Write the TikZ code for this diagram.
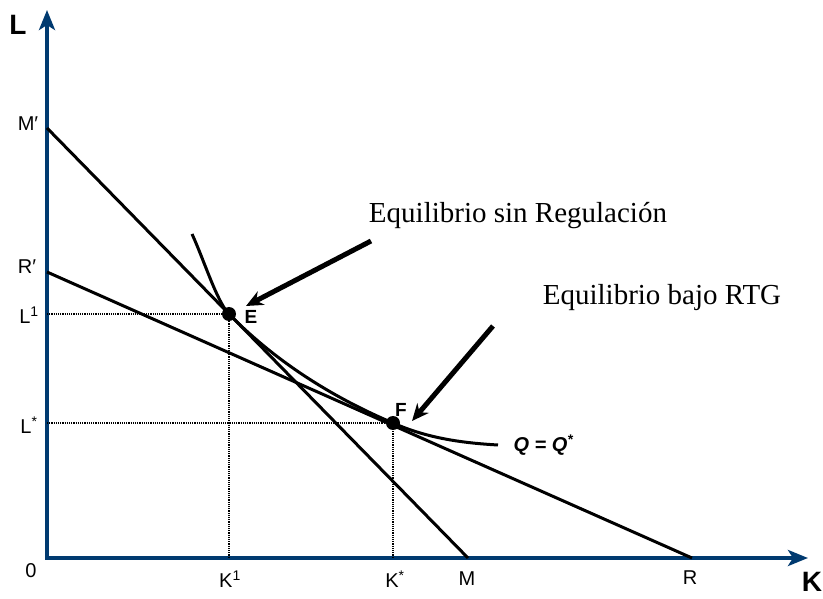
\documentclass[tikz,border=0pt]{standalone}
\usepackage{fontspec}
\setmainfont{Liberation Serif}
\setsansfont{Liberation Sans}
\usetikzlibrary{arrows.meta,positioning}
\definecolor{axisblue}{RGB}{0,58,112}

\begin{document}
\begin{tikzpicture}[x=1pt,y=1pt,
  axis/.style={draw=axisblue,line width=4.5pt,{Stealth[length=20pt,width=16pt,inset=5pt]}-{Stealth[length=20pt,width=16pt,inset=5pt]}},
  budget/.style={line width=3pt},
  guide/.style={line width=1.2pt,densely dotted},
  pt/.style={circle,fill=black,inner sep=0pt,minimum size=14pt},
  lbl/.style={font=\sffamily\fontsize{20}{20}\selectfont},
  axlbl/.style={font=\sffamily\bfseries\fontsize{28}{28}\selectfont,inner sep=1pt},
  ptlbl/.style={font=\sffamily\bfseries\fontsize{19}{19}\selectfont},
  note/.style={font=\fontsize{29}{29}\selectfont},
  callout/.style={line width=5pt,-{Stealth[length=17pt,width=15pt]}}]
\useasboundingbox (0,0) rectangle (823,598);
% axes
\coordinate (O) at (47,40);
\coordinate (Ytop) at (47,588);
\coordinate (Xend) at (808,40);
\draw[axis] (Ytop) -- (O) -- (Xend);
\node[axlbl] (lL) at (18,573) {L};
\node[axlbl] (lK) at (812,16) {K};
\node[lbl] (l0) at (31,27) {0};
% budget lines
\coordinate (Mp) at (47,470);
\coordinate (M) at (468,40);
\coordinate (Rp) at (47,326);
\coordinate (R) at (692,40);
\draw[budget] (Mp) -- (M);
\draw[budget] (Rp) -- (R);
\node[lbl] (lMp) at (28,474) {M′};
\node[lbl] (lRp) at (27,331) {R′};
\node[lbl] (lM) at (467,19) {M};
\node[lbl] (lR) at (690,20) {R};
% equilibria
\coordinate (L1) at (47,284);
\coordinate (K1) at (229,40);
\coordinate (Ls) at (47,175);
\coordinate (Ks) at (393,40);
\draw[guide] (L1) -- (229,284) -- (K1);
\draw[guide] (Ls) -- (393,175) -- (Ks);
\node[lbl] (lL1) at (29,283) {L\textsuperscript{1}};
\node[lbl] (lLs) at (29,173) {L\textsuperscript{*}};
\node[lbl] (lK1) at (230,19) {K\textsuperscript{1}};
\node[lbl] (lKs) at (395,19) {K\textsuperscript{*}};
% isoquant
\coordinate (Q0) at (192,364);
\coordinate (Q1) at (498,153);
\draw[budget] (Q0) .. controls (204,338) and (217,296) .. (229,284)
  .. controls (272,240) and (327,203) .. (393,175)
  .. controls (428,159.5) and (463,155) .. (Q1);
\node[pt] (E) at (229,284) {};
\node[pt] (F) at (393,175) {};
\node[ptlbl] (lE) at (251,281) {E};
\node[ptlbl] (lF) at (401,188) {F};
\node[font=\sffamily\bfseries\itshape\fontsize{20}{20}\selectfont,anchor=west] (lQ) at (510,153) {Q = Q\textsuperscript{*}};
% notes
\node[note] (sinreg) at (518,382) {Equilibrio sin Regulación};
\node[note] (bajo) at (662,300) {Equilibrio bajo RTG};
\coordinate (a1) at (371,357);
\coordinate (a1tip) at (246,292);
\coordinate (a2) at (493,272);
\coordinate (a2tip) at (412,177);
\draw[callout] (a1) -- (a1tip);
\draw[callout] (a2) -- (a2tip);
\end{tikzpicture}
\end{document}
